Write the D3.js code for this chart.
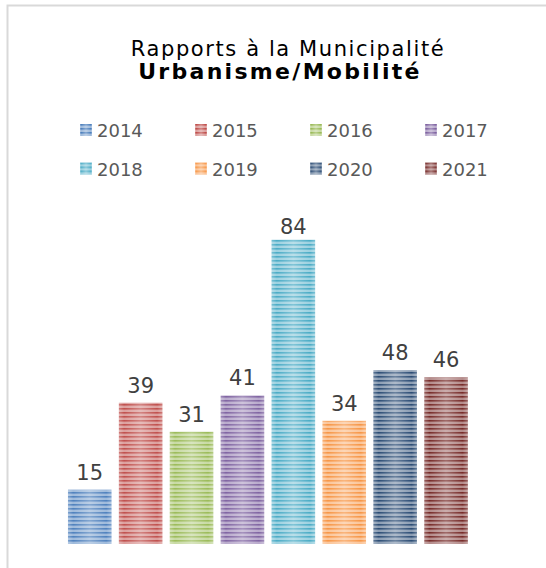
<!DOCTYPE html>
<html>
<head>
<meta charset="utf-8">
<script src="https://cdn.jsdelivr.net/npm/d3@7"></script>
<style>
  html, body { margin: 0; padding: 0; background: #fff; }
  svg { display: block; }
</style>
</head>
<body>
<div id="chart"></div>
<script>
// data
var years  = ["2014", "2015", "2016", "2017", "2018", "2019", "2020", "2021"];
var counts = [15, 39, 31, 41, 84, 34, 48, 46];
var colors = ["#4F81BD", "#C0504D", "#9BBB59", "#8064A2",
              "#4BACC6", "#F79646", "#2C4D75", "#772C2A"];
var titleLines = ["Rapports à la Municipalité", "Urbanisme/Mobilité"];
var yMax = 90;

var W = 546, H = 568,
    font = "'DejaVu Sans', sans-serif",
    plot = { left: 64.4, right: 471.4, top: 218, bottom: 544 };

var data = years.map(function(y, i) {
  return { key: y, value: counts[i], color: colors[i] };
});

var svg = d3.select("#chart").append("svg")
  .attr("width", W).attr("height", H);

// striped fills, one per year
var defs = svg.append("defs");
var sheen = defs.append("linearGradient").attr("id", "sheen")
  .attr("x1", 0).attr("x2", 1).attr("y1", 0).attr("y2", 0);
sheen.append("stop").attr("offset", "0%").attr("stop-color", "#fff").attr("stop-opacity", 0.25);
sheen.append("stop").attr("offset", "12%").attr("stop-color", "#fff").attr("stop-opacity", 0);
sheen.append("stop").attr("offset", "50%").attr("stop-color", "#fff").attr("stop-opacity", 0.3);
sheen.append("stop").attr("offset", "88%").attr("stop-color", "#fff").attr("stop-opacity", 0);
sheen.append("stop").attr("offset", "100%").attr("stop-color", "#fff").attr("stop-opacity", 0.25);

data.forEach(function(d, i) {
  var p = defs.append("pattern").attr("id", "stripe" + i)
    .attr("patternUnits", "userSpaceOnUse")
    .attr("width", 8).attr("height", 4);
  p.append("rect").attr("width", 8).attr("height", 4)
    .attr("fill", d3.interpolateRgb(d.color, "#fff")(0.45));
  p.append("rect").attr("width", 8).attr("height", 1.6)
    .attr("fill", d.color);
});

// chart frame
svg.append("rect")
  .attr("x", 7.5).attr("y", 5.5)
  .attr("width", 600).attr("height", 600)
  .attr("fill", "#fff").attr("stroke", "#d9d9d9").attr("stroke-width", 2);

// title (letter-spacing stands in for the wide original face)
svg.append("text")
  .attr("x", 288).attr("y", 56)
  .attr("text-anchor", "middle")
  .style("font-family", font).style("font-size", "21px")
  .style("letter-spacing", "1.6px")
  .attr("fill", "#000")
  .text(titleLines[0]);
svg.append("text")
  .attr("x", 280).attr("y", 79)
  .attr("text-anchor", "middle")
  .style("font-family", font).style("font-size", "22px").style("font-weight", "bold")
  .style("letter-spacing", "2.3px")
  .attr("fill", "#000")
  .text(titleLines[1]);

// scales
var x = d3.scaleBand()
  .domain(years)
  .range([plot.left, plot.right])
  .paddingInner(0.145)
  .paddingOuter(0.07);
var y = d3.scaleLinear()
  .domain([0, yMax])
  .range([plot.bottom, plot.top]);

// legend: 4 columns, 2 rows
var legend = svg.append("g");
var items = legend.selectAll("g").data(data).enter().append("g")
  .attr("transform", function(d, i) {
    return "translate(" + (80 + (i % 4) * 115) + "," + (124 + Math.floor(i / 4) * 38.5) + ")";
  });
items.append("rect")
  .attr("width", 12).attr("height", 12)
  .attr("fill", function(d, i) { return "url(#stripe" + i + ")"; });
items.append("rect")
  .attr("width", 12).attr("height", 12)
  .attr("fill", "url(#sheen)");
items.append("text")
  .attr("x", 17).attr("y", 13)
  .style("font-family", font).style("font-size", "18px")
  .attr("fill", "#595959")
  .text(function(d) { return d.key; });

// bars
var bars = svg.append("g");
bars.selectAll("rect.bar").data(data).enter().append("rect")
  .attr("class", "bar")
  .attr("x", function(d) { return x(d.key); })
  .attr("y", function(d) { return y(d.value); })
  .attr("width", x.bandwidth())
  .attr("height", function(d) { return y(0) - y(d.value); })
  .attr("fill", function(d, i) { return "url(#stripe" + i + ")"; });
bars.selectAll("rect.sheen").data(data).enter().append("rect")
  .attr("class", "sheen")
  .attr("x", function(d) { return x(d.key); })
  .attr("y", function(d) { return y(d.value); })
  .attr("width", x.bandwidth())
  .attr("height", function(d) { return y(0) - y(d.value); })
  .attr("fill", "url(#sheen)");

// value labels, kept inside the plot area
svg.append("g").selectAll("text").data(data).enter().append("text")
  .attr("x", function(d) { return x(d.key) + x.bandwidth() / 2; })
  .attr("y", function(d) { return Math.max(y(d.value) - 10, plot.top + 16); })
  .attr("text-anchor", "middle")
  .style("font-family", font).style("font-size", "21px")
  .attr("fill", "#404040")
  .text(function(d) { return d.value; });
</script>
</body>
</html>
